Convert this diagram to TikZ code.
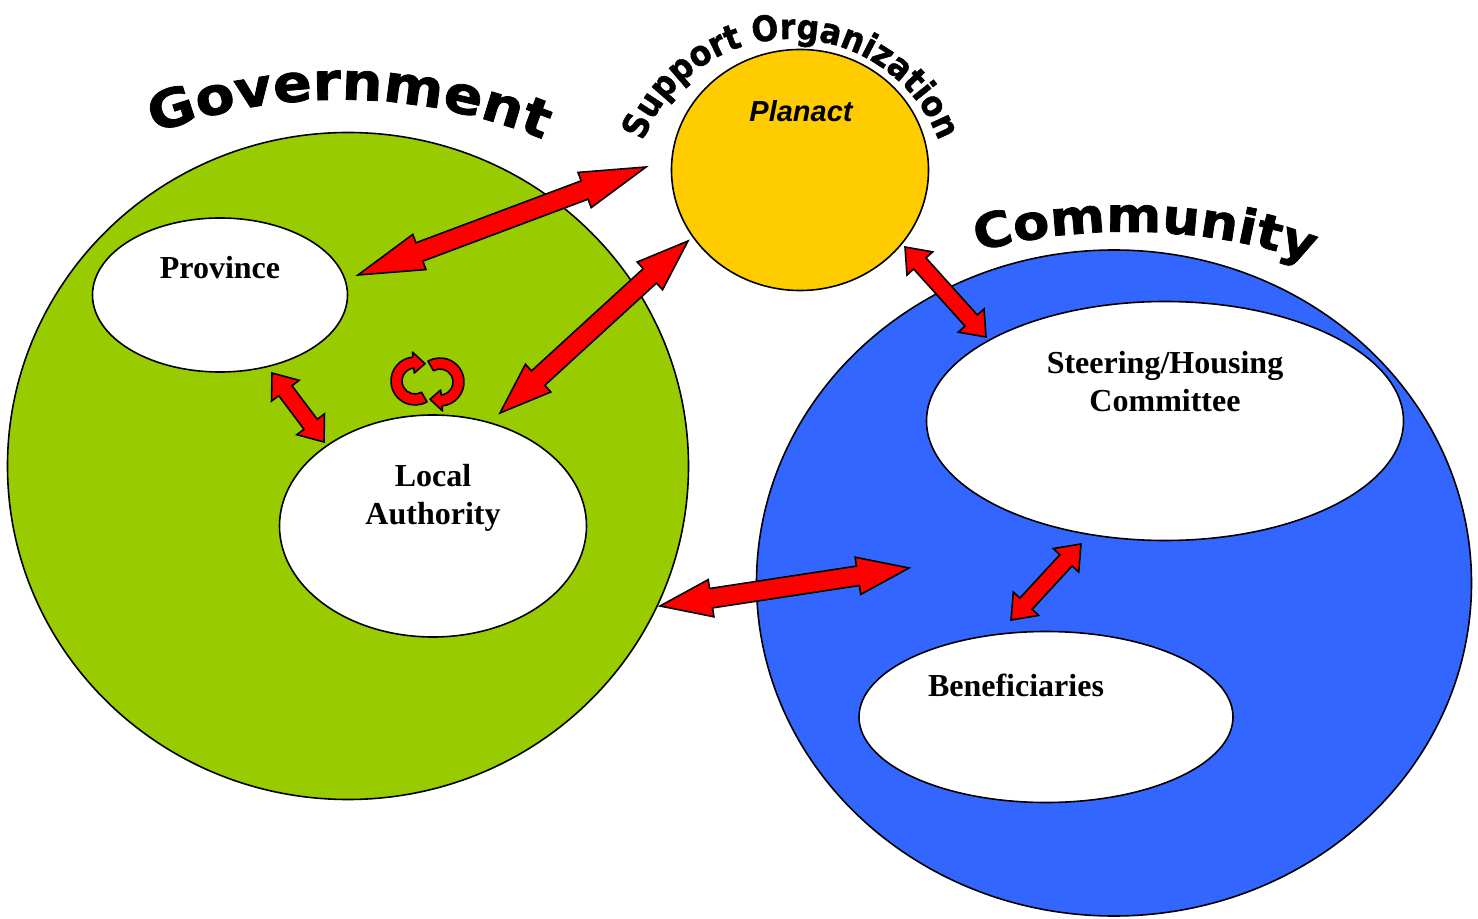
\documentclass[tikz,border=0pt]{standalone}
\usepackage{fontspec}
\setmainfont{Liberation Serif}
\newfontfamily\planactfont{Liberation Sans}
\newfontfamily\titlefont[FakeStretch=1.1, FakeBold=1.5]{DejaVu Sans}
\newfontfamily\supportfont[FakeStretch=0.9, FakeBold=1.2]{DejaVu Sans}
\usepackage{tikz}
\usetikzlibrary{shapes.geometric, shapes.arrows, calc, decorations.text}

\definecolor{govgreen}{HTML}{99CC00}
\definecolor{commblue}{HTML}{3366FF}
\definecolor{planyellow}{HTML}{FFCC00}

% block arrow with two heads between two points
\newcommand{\linkarrow}[3][]{%
  \path let \p1=($(#3)-(#2)$) in
    node[link, #1, minimum height={veclen(\x1,\y1)}, rotate={atan2(\y1,\x1)}] at ($(#2)!0.5!(#3)$) {};}

\begin{document}
\begin{tikzpicture}[
    x=0.5pt, y=-0.5pt,
    region/.style={ellipse, draw=black, line width=0.8pt, inner sep=0pt},
    group/.style={ellipse, draw=black, fill=white, line width=0.8pt, inner sep=0pt},
    lbl/.style={font=\bfseries\fontsize{16}{19}\selectfont, align=center},
    link/.style={double arrow, draw=black, fill=red, line width=0.8pt, inner sep=0pt, outer sep=0pt},
    biglink/.style={inner ysep=4.5pt, double arrow head extend=4.5pt, double arrow tip angle=40},
    smalllink/.style={inner ysep=3.75pt, double arrow head extend=4.5pt, double arrow tip angle=76},
    cyclic/.style={draw=black, fill=red, line width=0.8pt, line join=round}
]
\useasboundingbox (0,0) rectangle (1478,919);

% the three parties
\node[region, fill=govgreen, minimum width=340.5pt, minimum height=333.5pt] (gov) at (348,466) {};
\node[region, fill=commblue, minimum width=357.5pt, minimum height=333pt] (comm) at (1114,583) {};
\node[region, fill=planyellow, minimum width=128.5pt, minimum height=120.5pt] (planact) at (800,170) {};

\node[group, minimum width=127.5pt, minimum height=77pt] (prov) at (220,295) {};
\node[group, minimum width=153.5pt, minimum height=111pt] (local) at (433,526) {};
\node[group, minimum width=238.5pt, minimum height=119.5pt] (steer) at (1165,421) {};
\node[group, minimum width=187pt, minimum height=85.5pt] (benef) at (1046,717) {};

\node[lbl] (provtxt) at (220,268) {Province};
\node[lbl] (localtxt) at (433,498) {Local\\Authority};
\node[lbl] (steertxt) at (1165,382) {Steering/Housing\\Committee};
\node[lbl] (beneftxt) at (1016,685) {Beneficiaries};
\node[font=\planactfont\bfseries\itshape\fontsize{14.5}{17}\selectfont] (planacttxt) at (801,111) {Planact};

% curved titles
\path[decorate, decoration={text along path, text align=center,
    text={|\titlefont\bfseries\fontsize{26}{26}\selectfont|Government}}]
    (144,138) .. controls (270,86) and (420,86) .. (554,144);
\path[decorate, decoration={text along path, text align=center,
    text={|\titlefont\bfseries\fontsize{24}{24}\selectfont|Community}}]
    (964,256) .. controls (1060,224) and (1210,220) .. (1324,268);
\path[decorate, decoration={text along path, text align=center,
    text={|\supportfont\bfseries\fontsize{17.5}{17.5}\selectfont|Support Organization}}]
    (791,197) ++(-165:158) arc[start angle=-165, end angle=-15, radius=158];

% end points of the links
\coordinate (provE) at (358,275);
\coordinate (planW) at (646,167);
\coordinate (localN) at (500,413);
\coordinate (planSW) at (688,241);
\coordinate (provS) at (272,373);
\coordinate (localNW) at (324,442);
\coordinate (planSE) at (905,247);
\coordinate (steerNW) at (986,337);
\coordinate (govE) at (660,606);
\coordinate (commW) at (909,568);
\coordinate (steerS) at (1081,544);
\coordinate (benefN) at (1011,620);

\linkarrow[biglink, double arrow tip angle=32]{provE}{planW}
\linkarrow[biglink]{localN}{planSW}
\linkarrow[biglink]{govE}{commW}
\linkarrow[smalllink]{provS}{localNW}
\linkarrow[smalllink]{planSE}{steerNW}
\linkarrow[smalllink]{steerS}{benefN}

% circling arrows above the local authority
\coordinate (cycL) at (415,381);
\coordinate (cycR) at (440,382);
\draw[cyclic] ($(cycL)+(60:13)$) arc[start angle=60, end angle=265, radius=13]
    -- ($(cycL)+(265:8)$) -- ($(cycL)+(300:20)$) -- ($(cycL)+(265:29)$)
    -- ($(cycL)+(265:24)$) arc[start angle=265, end angle=60, radius=24] -- cycle;
\draw[cyclic] ($(cycR)+(240:13)$) arc[start angle=240, end angle=445, radius=13]
    -- ($(cycR)+(445:8)$) -- ($(cycR)+(480:20)$) -- ($(cycR)+(445:29)$)
    -- ($(cycR)+(445:24)$) arc[start angle=445, end angle=240, radius=24] -- cycle;

\end{tikzpicture}
\end{document}
